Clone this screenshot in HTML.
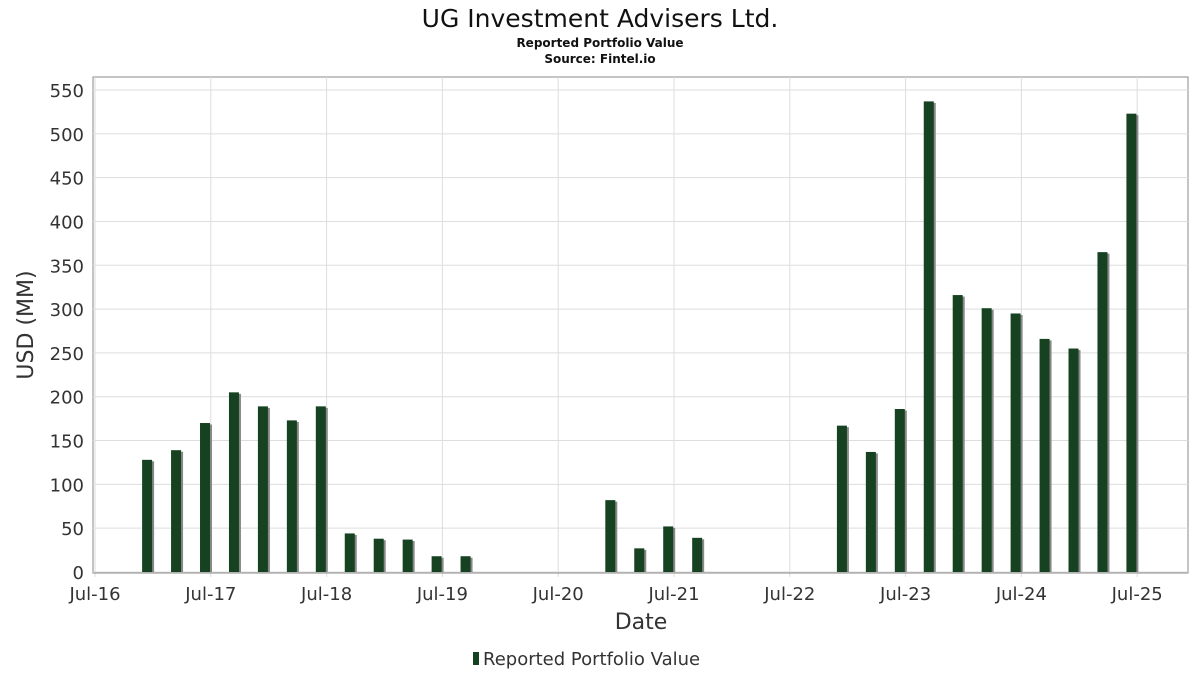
<!DOCTYPE html>
<html><head><meta charset="utf-8"><style>
body{margin:0;background:#fff;width:1200px;height:675px;overflow:hidden;font-family:"DejaVu Sans","Liberation Sans",sans-serif}
</style></head><body>
<svg id="chart" width="1200" height="675" xmlns="http://www.w3.org/2000/svg" font-family="DejaVu Sans, Liberation Sans, sans-serif">
<text x="600" y="27" text-anchor="middle" font-size="25" fill="#111">UG Investment Advisers Ltd.</text>
<text x="600" y="47" text-anchor="middle" font-size="12" font-weight="bold" fill="#111">Reported Portfolio Value</text>
<text x="600" y="63" text-anchor="middle" font-size="12" font-weight="bold" fill="#111">Source: Fintel.io</text>
<rect x="93" y="77" width="1095" height="496" fill="#fff" stroke="#888"/>
<g id="grid"></g><g id="bars"></g><g id="axes"></g>
<text transform="translate(33,325) rotate(-90)" text-anchor="middle" font-size="22" fill="#333">USD (MM)</text>
<text x="641" y="629" text-anchor="middle" font-size="22" fill="#333">Date</text>
<g>
<rect x="473" y="652" width="6" height="13" fill="#164222"/>
<text x="483" y="665" font-size="18" fill="#333">Reported Portfolio Value</text>
</g>
</svg>
<script>
const quarters=[0,1,2,3,4,5,6,7,8,9,10,11,16,17,18,19,24,25,26,27,28,29,30,31,32,33,34]; // quarters since Q4-2016
const values=[128,139,170,205,189,173,189,44,38,37,18,18,82,27,52,39,167,137,186,537,316,301,295,266,255,365,523];
const yTicks=[0,50,100,150,200,250,300,350,400,450,500,550];
const xTickLabels=["Jul-16","Jul-17","Jul-18","Jul-19","Jul-20","Jul-21","Jul-22","Jul-23","Jul-24","Jul-25"];
const NS="http://www.w3.org/2000/svg";
const y=v=>572-v*(482/550);
const xYear=t=>95+t*115.8; // years since Jul-16
const xQ=q=>xYear(0.45+q*0.25);
function mk(tag,attrs,parent){const e=document.createElementNS(NS,tag);for(const k in attrs)e.setAttribute(k,attrs[k]);document.getElementById(parent).appendChild(e);return e;}
yTicks.forEach(v=>{
  const l=mk('line',{x1:93,x2:1188,y1:y(v),y2:y(v),stroke:'#ddd'},'grid');
  
  
  const t=mk('text',{x:84,y:y(v)+7,'text-anchor':'end','font-size':18,fill:'#333'},'axes');
  t.textContent=v;
  
  
});
xTickLabels.forEach((s,i)=>{
  const l=mk('line',{x1:xYear(i),x2:xYear(i),y1:77,y2:577,stroke:'#ddd'},'grid');
  
  
  const t=mk('text',{x:xYear(i),y:600,'text-anchor':'middle','font-size':18,fill:'#333'},'axes');
  t.textContent=s;
  
  
});
const ax=mk('line',{x1:93,x2:1188,y1:573,y2:573,stroke:'#888'},'axes');


quarters.forEach((q,i)=>{
  const cx=xQ(q),top=y(values[i]);
  const s=mk('rect',{x:cx-3,y:top+1.5,width:10,height:572-top-1.5,fill:'#888'},'bars');
  
  
  const b=mk('rect',{x:cx-5,y:top,width:10,height:572-top,fill:'#164222'},'bars');
  
  
});
</script>
</body></html>
